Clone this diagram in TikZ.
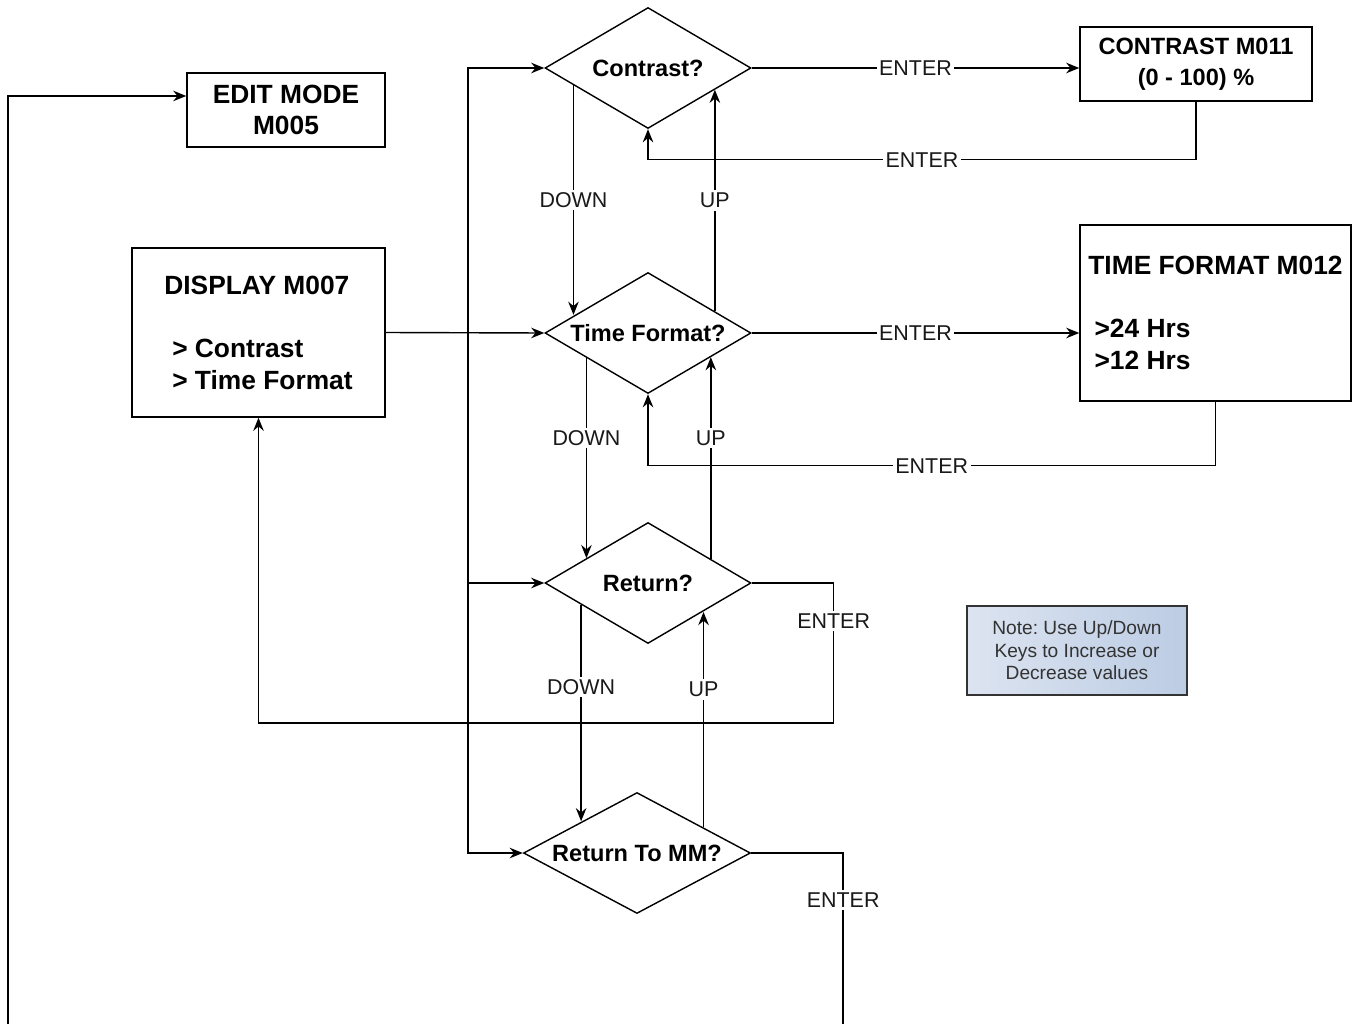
\documentclass[tikz,border=0pt]{standalone}
\usepackage{fontspec}
\setmainfont{Liberation Sans}
\usepackage{tikz}
\usetikzlibrary{shapes.geometric,arrows.meta}
\definecolor{notel}{RGB}{220,228,240}
\definecolor{noter}{RGB}{188,204,228}
\frenchspacing

\begin{document}
\begin{tikzpicture}[x=0.02cm, y=-0.02cm, line width=0.8pt,
  >={Stealth[length=7.5pt,width=6pt,inset=2.5pt]},
  box/.style={draw, rectangle, inner sep=0pt, align=center, font=\fontsize{15}{18}\selectfont\bfseries},
  dec/.style={draw, diamond, aspect=1.7, inner sep=0pt, minimum width=4.12cm, minimum height=2.42cm, font=\fontsize{13.4}{16}\selectfont\bfseries},
  lbl/.style={fill=white, inner sep=1.5pt, font=\fontsize{12.2}{14}\selectfont, text=black!90}]

\useasboundingbox (0,0) rectangle (1359,1024);

\node [box, minimum width=3.96cm, minimum height=1.48cm] (edit) at (286,110) {EDIT MODE\\M005};
\node [box, minimum width=5.06cm, minimum height=3.38cm, align=left] (disp) at (258.5,332.5)
  {DISPLAY M007\\[18pt]\hspace*{4.5pt}> Contrast\\\hspace*{4.5pt}> Time Format};
\node [box, minimum width=4.64cm, minimum height=1.48cm, font=\fontsize{13.4}{17.5}\selectfont\bfseries] (cbox) at (1196,64)
  {CONTRAST M011\\(0 - 100) \%};
\node [box, minimum width=5.42cm, minimum height=3.52cm, align=left] (tbox) at (1215.5,313)
  {TIME FORMAT M012\\[18pt]\hspace*{3.5pt}>24 Hrs\\\hspace*{3.5pt}>12 Hrs};
\node [draw=black!80, left color=notel, right color=noter, minimum width=4.4cm, minimum height=1.78cm,
  align=center, text=black!80, font=\fontsize{10.9}{12.75}\selectfont] (note) at (1077,650.5)
  {Note: Use Up/Down\\Keys to Increase or\\Decrease values};

\node [dec] (con) at (648,68) {Contrast?};
\node [dec] (tf) at (648,333) {Time Format?};
\node [dec] (ret) at (648,583) {Return?};
\node [dec, aspect=1.876, minimum width=4.54cm] (rtm) at (637,853) {Return To MM?};

% contrast
\draw [->] (con.east) -- node[lbl]{ENTER} (cbox.west |- con.east);
\draw [->] (cbox.south) -- ++(0,58) -| node[lbl,pos=0.25]{ENTER} (con.south);
\draw [->] (con.193.6) -- node[lbl]{DOWN} (con.193.6 |- tf.166.4);
\draw [->] (tf.18.2) -- node[lbl]{UP} (tf.18.2 |- con.-18.2);

% time format
\draw [->] (disp.east) -- (tf.west);
\draw [->] (tf.east) -- node[lbl]{ENTER} (tbox.west |- tf.east);
\draw [->] (tbox.south) -- ++(0,64) -| node[lbl,pos=0.25]{ENTER} (tf.south);
\draw [->] (tf.202) -- node[lbl,pos=0.4]{DOWN} (tf.202 |- ret.158);
\draw [->] (ret.21.2) -- node[lbl,pos=0.6]{UP} (ret.21.2 |- tf.-21.2);

% return
\draw [->] (ret.east) -- ++(82,0) -- node[lbl,pos=0.27]{ENTER} ++(0,140) -| (disp.south);
\draw [->] (ret.198.2) -- node[lbl,pos=0.38]{DOWN} (ret.198.2 |- rtm.150.4);
\draw [->] (rtm.21.7) -- node[lbl,pos=0.64]{UP} (rtm.21.7 |- ret.-28.1);

\coordinate (bus) at (468,583);
\draw [->] (bus) |- (con.west);
\draw [->] (bus) -- (ret.west);
\draw [->] (bus) |- (rtm.west);

% back to edit mode
\coordinate (back) at (8,1040);
\draw [->] (rtm.east) -- ++(92,0) -- node[lbl,pos=0.25]{ENTER} ++(0,187) -- (back) |- (edit.172.5);

\end{tikzpicture}
\end{document}
